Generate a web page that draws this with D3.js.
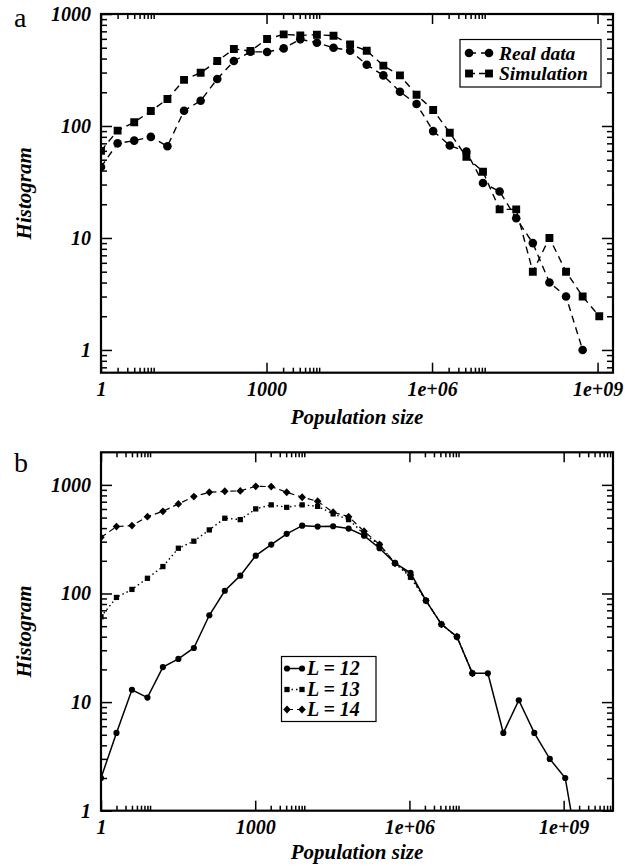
<!DOCTYPE html>
<html><head><meta charset="utf-8">
<script src="https://cdn.jsdelivr.net/npm/d3@7"></script>
<style>
html,body{margin:0;padding:0;background:#fff;}
svg text{font-family:"Liberation Serif","Times New Roman",serif;}
</style></head>
<body>
<svg id="chart" width="625" height="868"></svg>
<script>
// ---------- DATA ----------
// x values are population sizes 2^k
const realDataExp = d3.range(0, 30);
const realData = [43,70,74,80,66,137,168,263,380,460,458,493,594,554,500,470,352,283,202,157,90,67,59,31,26,15,9,4,3,1];
const simulationExp = d3.range(0, 31);
const simulation = [60,91,108,136,174,258,299,380,487,468,598,658,645,653,640,535,470,346,283,190,139,87,53,39,18,18,5,10,5,3,2];

const L12Exp = d3.range(0, 32);
const L12 = [2,5.2,13,11,21,25,31.5,63,106,146,223,282,354,421,413,416,396,341,261,190,155,86,52,40,18.4,18.4,5.2,10.4,5.2,3,2,0.3];
const L13Exp = d3.range(0, 25);
const L13 = [61,92,109,138,177,261,303,385,493,479,601,655,622,655,635,541,479,354,280,190,141,86,52,40,18.4];
const L14Exp = d3.range(0, 25);
const L14 = [329,413,422,510,571,668,780,855,873,880,970,964,855,770,706,560,510,374,283,190,148,86,52,40,18.4];

const xTickValues = [1, 1e3, 1e6, 1e9];
const xTickLabels = ["1", "1000", "1e+06", "1e+09"];
const yTickValues = [1, 10, 100, 1000];
const yTickLabels = ["1", "10", "100", "1000"];
const legendA = ["Real data", "Simulation"];
const legendB = ["L = 12", "L = 13", "L = 14"];
const xTitle = "Population size";
const yTitle = "Histogram";

// ---------- DRAW ----------
const svg = d3.select("#chart");
const FONT = '"Liberation Serif","Times New Roman",serif';

function minorTicks(majors, domain) {
  const out = [];
  majors.forEach(m => { for (let i = 2; i <= 9; i++) out.push(m * i); });
  return out.filter(v => v >= domain[0] * 0.999 && v <= domain[1] * 1.001);
}
function yMinors(domain) {
  const out = [];
  for (let e = -1; e <= 4; e++) for (let i = 2; i <= 9; i++) out.push(i * Math.pow(10, e));
  return out.filter(v => v >= domain[0] && v <= domain[1]);
}

function panel(cfg) {
  const g = svg.append("g");
  const x = d3.scaleLog().domain(cfg.xDomain).range([cfg.left, cfg.right]);
  const y = d3.scaleLog().domain(cfg.yDomain).range([cfg.bottom, cfg.top]);
  const W = cfg.right - cfg.left, H = cfg.bottom - cfg.top;
  const xMaj = xTickValues.filter(v => v >= cfg.xDomain[0] && v <= cfg.xDomain[1] * 1.001);
  const xMin = minorTicks(xTickValues, cfg.xDomain);
  const yMaj = yTickValues.filter(v => v >= cfg.yDomain[0] * 0.999 && v <= cfg.yDomain[1] * 1.001);
  const yMin = yMinors(cfg.yDomain);
  const fmtX = v => xTickLabels[xTickValues.indexOf(v)];
  const fmtY = v => yTickLabels[yTickValues.indexOf(v)];

  const styleAxis = (sel) => {
    sel.select(".domain").remove();
    sel.selectAll("line").attr("stroke", "#000").attr("stroke-width", 1.5);
    sel.selectAll("text").attr("font-size", 20).attr("font-weight", "bold")
       .attr("font-style", "italic").attr("fill", "#000")
       .style("font-family", FONT);
  };
  // bottom
  g.append("g").attr("transform", `translate(0,${cfg.bottom})`)
    .call(d3.axisBottom(x).tickValues(xMaj).tickFormat(fmtX).tickSizeInner(-10).tickSizeOuter(0).tickPadding(9)).call(styleAxis);
  g.append("g").attr("transform", `translate(0,${cfg.bottom})`)
    .call(d3.axisBottom(x).tickValues(xMin).tickFormat("").tickSizeInner(-5).tickSizeOuter(0)).call(styleAxis);
  // top
  g.append("g").attr("transform", `translate(0,${cfg.top})`)
    .call(d3.axisTop(x).tickValues(xMaj).tickFormat("").tickSizeInner(-10).tickSizeOuter(0)).call(styleAxis);
  g.append("g").attr("transform", `translate(0,${cfg.top})`)
    .call(d3.axisTop(x).tickValues(xMin).tickFormat("").tickSizeInner(-5).tickSizeOuter(0)).call(styleAxis);
  // left
  g.append("g").attr("transform", `translate(${cfg.left},0)`)
    .call(d3.axisLeft(y).tickValues(yMaj).tickFormat(fmtY).tickSizeInner(-11).tickSizeOuter(0).tickPadding(10)).call(styleAxis);
  g.append("g").attr("transform", `translate(${cfg.left},0)`)
    .call(d3.axisLeft(y).tickValues(yMin).tickFormat("").tickSizeInner(-6).tickSizeOuter(0)).call(styleAxis);
  // right
  g.append("g").attr("transform", `translate(${cfg.right},0)`)
    .call(d3.axisRight(y).tickValues(yMaj).tickFormat("").tickSizeInner(-11).tickSizeOuter(0)).call(styleAxis);
  g.append("g").attr("transform", `translate(${cfg.right},0)`)
    .call(d3.axisRight(y).tickValues(yMin).tickFormat("").tickSizeInner(-6).tickSizeOuter(0)).call(styleAxis);

  // clip
  const cid = "clip" + cfg.id;
  svg.append("defs").append("clipPath").attr("id", cid)
    .append("rect").attr("x", cfg.left).attr("y", cfg.top).attr("width", W).attr("height", H);

  const plot = g.append("g").attr("clip-path", `url(#${cid})`);
  cfg.series.forEach(s => {
    const pts = s.exp.map((e, i) => [Math.pow(2, e), s.values[i]]);
    const line = d3.line().x(d => x(d[0])).y(d => y(d[1]));
    plot.append("path").attr("d", line(pts)).attr("fill", "none")
      .attr("stroke", "#000").attr("stroke-width", s.width)
      .attr("stroke-dasharray", s.dash);
    plot.selectAll(null).data(pts.filter(p => p[1] >= cfg.yDomain[0])).enter().append("path")
      .attr("d", d3.symbol().type(s.symbol).size(s.size)())
      .attr("transform", d => `translate(${x(d[0])},${y(d[1])}) scale(${s.sx || 1},${s.sy || 1})`)
      .attr("fill", "#000");
  });

  // frame
  g.append("rect").attr("x", cfg.left).attr("y", cfg.top).attr("width", W).attr("height", H)
    .attr("fill", "none").attr("stroke", "#000").attr("stroke-width", 2.2);

  // titles
  g.append("text").attr("x", (cfg.left + cfg.right) / 2).attr("y", cfg.xTitleY)
    .attr("text-anchor", "middle").attr("font-size", 21).attr("font-weight", "bold").attr("font-style", "italic")
    .text(xTitle);
  g.append("text").attr("transform", `translate(${cfg.yTitleX},${(cfg.top + cfg.bottom) / 2}) rotate(-90)`)
    .attr("text-anchor", "middle").attr("font-size", 21).attr("font-weight", "bold").attr("font-style", "italic")
    .text(yTitle);
  g.append("text").attr("x", 14).attr("y", cfg.letterY).attr("font-size", 28).text(cfg.letter);

  // legend
  const lg = cfg.legend;
  g.append("rect").attr("x", lg.x).attr("y", lg.y).attr("width", lg.w).attr("height", lg.h)
    .attr("fill", "#fff").attr("stroke", "#000").attr("stroke-width", 1.2);
  cfg.series.forEach((s, i) => {
    const cy = lg.rowY[i];
    g.append("line").attr("x1", lg.sx1).attr("x2", lg.sx2).attr("y1", cy).attr("y2", cy)
      .attr("stroke", "#000").attr("stroke-width", s.width).attr("stroke-dasharray", s.legDash || s.dash);
    [lg.sx1, lg.sx2].forEach(px => {
      g.append("path").attr("d", d3.symbol().type(s.symbol).size(s.size)())
        .attr("transform", `translate(${px},${cy}) scale(${s.sx || 1},${s.sy || 1})`).attr("fill", "#000");
    });
    g.append("text").attr("x", lg.tx).attr("y", cy + 6.5).attr("font-size", lg.fs)
      .attr("font-weight", "bold").attr("font-style", "italic").text(lg.labels[i]);
  });
}

panel({
  id: "a", letter: "a", letterY: 27,
  left: 101, right: 613, top: 14, bottom: 372.7,
  xDomain: [1, Math.pow(10, 9.28)], yDomain: [Math.pow(10, -0.203), 1000],
  xTitleY: 424, yTitleX: 31,
  series: [
    { exp: realDataExp, values: realData, symbol: d3.symbolCircle, size: 58, dash: "7,5", width: 1.4 },
    { exp: simulationExp, values: simulation, symbol: d3.symbolSquare, size: 62, dash: "7,5", width: 1.4, legDash: "6,4" }
  ],
  legend: { x: 460, y: 39.5, w: 141, h: 47.5, rowY: [53, 73.5], sx1: 469, sx2: 489, tx: 499, fs: 19.5, labels: legendA }
});

panel({
  id: "b", letter: "b", letterY: 472,
  left: 101, right: 613, top: 452.3, bottom: 810.7,
  xDomain: [1, Math.pow(10, 9.96)], yDomain: [1, Math.pow(10, 3.3)],
  xTitleY: 859, yTitleX: 31,
  series: [
    { exp: L12Exp, values: L12, symbol: d3.symbolCircle, size: 30, dash: null, width: 1.5 },
    { exp: L13Exp, values: L13, symbol: d3.symbolSquare, size: 28, dash: "1.5,3", width: 1.4 },
    { exp: L14Exp, values: L14, symbol: d3.symbolDiamond, size: 22, dash: "6,4", width: 1.2, sx: 1.5, sy: 0.9 }
  ],
  legend: { x: 281.5, y: 656.5, w: 94.5, h: 65, rowY: [668.5, 689.5, 709.5], sx1: 287, sx2: 302, tx: 307, fs: 20, labels: legendB }
});
</script>
</body></html>
